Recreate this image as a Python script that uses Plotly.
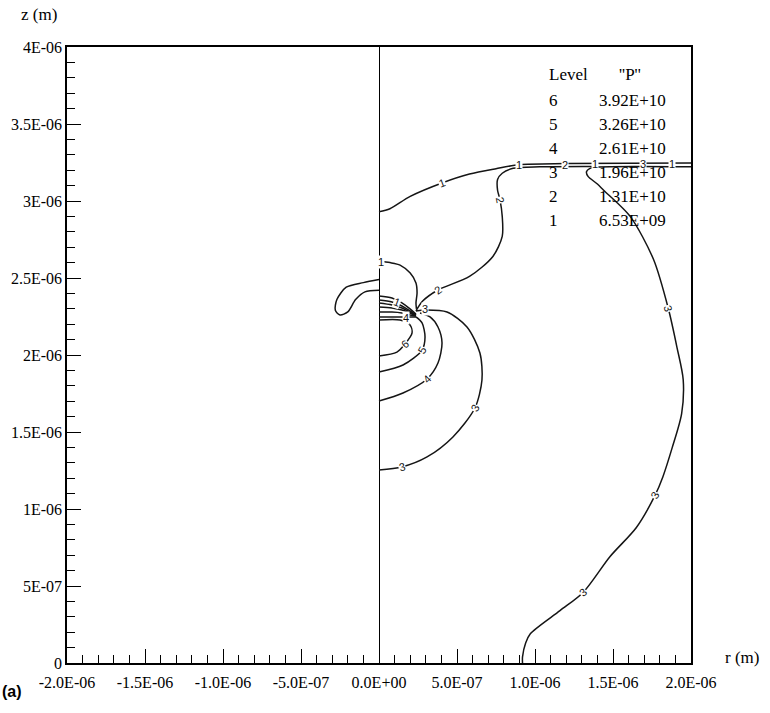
import numpy as np
import plotly.graph_objects as go

UM = 1e-6  # traced contour coordinates are stored in micrometres

# ---- pressure levels -------------------------------------------------------
levels = [6, 5, 4, 3, 2, 1]
level_pressure = [3.92e10, 3.26e10, 2.61e10, 1.96e10, 1.31e10, 6.53e9]

# ---- contour lines (r, z in µm) -------------------------------------------
c1_outer_r = [0.0, 0.07, 0.20, 0.404, 0.58, 0.75, 0.90, 1.20, 2.00]
c1_outer_z = [2.93, 2.95, 3.03, 3.117, 3.175, 3.21, 3.236, 3.243, 3.246]

c2_outer_r = [0.237, 0.28, 0.378, 0.58, 0.73, 0.79, 0.79, 0.776, 0.76, 0.76, 0.79, 0.86, 1.03, 1.40]
c2_outer_z = [2.286, 2.35, 2.422, 2.51, 2.64, 2.77, 2.90, 3.006, 3.07, 3.14, 3.18, 3.212, 3.222, 3.224]

c3_outer_r = [2.00, 1.40, 1.35, 1.33, 1.34, 1.40, 1.44, 1.61, 1.76, 1.855, 1.91, 1.95, 1.94,
              1.88, 1.82, 1.77, 1.65, 1.48, 1.31, 1.16, 0.97, 0.94, 0.92, 0.92]
c3_outer_z = [3.222, 3.220, 3.21, 3.19, 3.16, 3.11, 3.07, 2.90, 2.62, 2.30, 2.05, 1.84, 1.62,
              1.40, 1.21, 1.09, 0.88, 0.69, 0.46, 0.34, 0.19, 0.13, 0.04, 0.0]

c1_inner_r = [0.0, 0.07, 0.135, 0.20, 0.237, 0.244, 0.237, 0.24]
c1_inner_z = [2.61, 2.60, 2.584, 2.532, 2.468, 2.403, 2.338, 2.30]

lobe_r = [0.0, -0.10, -0.21, -0.27, -0.28, -0.25, -0.20, -0.15, -0.09, 0.0]
lobe_z = [2.49, 2.47, 2.44, 2.36, 2.29, 2.26, 2.28, 2.36, 2.41, 2.42]

fan1_r = [0.0, 0.083, 0.147, 0.199, 0.237]
fan1_z = [2.383, 2.370, 2.338, 2.299, 2.266]
fan2_r = [0.0, 0.083, 0.147, 0.199, 0.237]
fan2_z = [2.357, 2.344, 2.318, 2.286, 2.260]
fan3_r = [0.0, 0.083, 0.147, 0.199, 0.237]
fan3_z = [2.338, 2.325, 2.305, 2.279, 2.260]
fan4_r = [0.0, 0.083, 0.147, 0.199, 0.237]
fan4_z = [2.312, 2.305, 2.292, 2.273, 2.253]
fan5_r = [0.0, 0.083, 0.147, 0.199, 0.237]
fan5_z = [2.279, 2.279, 2.273, 2.260, 2.253]
fan6_r = [0.0, 0.103, 0.167, 0.237]
fan6_z = [2.247, 2.247, 2.247, 2.247]

c6_r = [0.0, 0.135, 0.199, 0.212, 0.167, 0.115, 0.0]
c6_z = [2.227, 2.227, 2.195, 2.143, 2.071, 2.019, 1.994]

c5_r = [0.0, 0.154, 0.276, 0.295, 0.276, 0.237]
c5_z = [1.890, 1.935, 2.032, 2.117, 2.208, 2.247]

c4_r = [0.0, 0.154, 0.308, 0.378, 0.404, 0.378, 0.327, 0.263]
c4_z = [1.701, 1.753, 1.844, 1.948, 2.078, 2.182, 2.247, 2.273]

c3_inner_r = [0.237, 0.295, 0.436, 0.564, 0.647, 0.660, 0.615, 0.474, 0.308, 0.147, 0.0]
c3_inner_z = [2.286, 2.292, 2.279, 2.182, 2.013, 1.838, 1.656, 1.468, 1.338, 1.273, 1.253]

# ---- in-line contour labels ------------------------------------------------
label_text = ["1", "1", "2", "1", "3", "1", "2", "2", "1", "1", "4", "3",
              "6", "5", "4", "3", "3", "3", "3", "3"]
label_r = [0.404, 0.897, 1.192, 1.385, 1.692, 1.878, 0.776, 0.378, 0.013, 0.115, 0.173, 0.295,
           0.167, 0.276, 0.308, 0.615, 0.147, 1.855, 1.77, 1.31]
label_z = [3.117, 3.236, 3.236, 3.240, 3.240, 3.240, 3.006, 2.422, 2.604, 2.344, 2.240, 2.299,
           2.071, 2.032, 1.844, 1.656, 1.273, 2.30, 1.09, 0.46]

# ---- axis ticks ------------------------------------------------------------
x_tick_vals = [-2.0e-6, -1.5e-6, -1.0e-6, -5.0e-7, 0.0, 5.0e-7, 1.0e-6, 1.5e-6, 2.0e-6]
x_tick_text = ["-2.0E-06", "-1.5E-06", "-1.0E-06", "-5.0E-07", "0.0E+00",
               "5.0E-07", "1.0E-06", "1.5E-06", "2.0E-06"]
y_tick_vals = [0.0, 5e-7, 1e-6, 1.5e-6, 2e-6, 2.5e-6, 3e-6, 3.5e-6, 4e-6]
y_tick_text = ["0", "5E-07", "1E-06", "1.5E-06", "2E-06", "2.5E-06", "3E-06", "3.5E-06", "4E-06"]

# ---------------------------------------------------------------------------
SERIF = "Liberation Serif"
SANS = "Liberation Sans"
LINE = dict(color="#151515", width=1.5)

lines = [
    (c1_outer_r, c1_outer_z), (c2_outer_r, c2_outer_z), (c3_outer_r, c3_outer_z),
    (c1_inner_r, c1_inner_z), (lobe_r, lobe_z),
    (fan1_r, fan1_z), (fan2_r, fan2_z), (fan3_r, fan3_z),
    (fan4_r, fan4_z), (fan5_r, fan5_z), (fan6_r, fan6_z),
    (c6_r, c6_z), (c5_r, c5_z), (c4_r, c4_z), (c3_inner_r, c3_inner_z),
]

fig = go.Figure()
for r, z in lines:
    fig.add_trace(go.Scatter(
        x=np.array(r) * UM, y=np.array(z) * UM, mode="lines",
        line=dict(LINE, shape="spline", smoothing=0.8),
        hoverinfo="skip", showlegend=False,
    ))

# rotation of each in-line label, following the local direction of its line
label_angle = [-20, 0, 0, 0, 0, 0, 80, -35, 0, 20, 0, 0,
               -40, -60, -45, -60, -15, 75, -62, -40]

annotations = []
for t, r, z, a in zip(label_text, label_r, label_z, label_angle):
    annotations.append(dict(
        x=r * UM, y=z * UM, xref="x", yref="y", text=t, showarrow=False,
        textangle=a, bgcolor="white", borderpad=0,
        font=dict(family=SANS, size=11, color="#111"),
    ))

# level table in the upper right
px_w, px_h = 624.0, 616.0
def paper_x(px):
    return (px - 67.0) / px_w
def paper_y(py):
    return (663.0 - py) / px_h

table_font = dict(family=SERIF, size=17, color="black")
annotations.append(dict(x=paper_x(547), y=paper_y(75), xref="paper", yref="paper",
                        text="Level", showarrow=False, xanchor="left", yanchor="middle",
                        font=table_font))
annotations.append(dict(x=paper_x(617), y=paper_y(75), xref="paper", yref="paper",
                        text="''P''", showarrow=False, xanchor="left", yanchor="middle",
                        font=table_font))
for i, (lv, p) in enumerate(zip(levels, level_pressure)):
    row_y = paper_y(100 + 24 * i)
    annotations.append(dict(x=paper_x(547), y=row_y, xref="paper", yref="paper",
                            text=str(lv), showarrow=False, xanchor="left",
                            yanchor="middle", font=table_font))
    annotations.append(dict(x=paper_x(597), y=row_y, xref="paper", yref="paper",
                            text=f"{p:.2E}", showarrow=False, xanchor="left",
                            yanchor="middle", font=table_font))

# axis titles and panel tag
annotations.append(dict(x=paper_x(39), y=paper_y(15), xref="paper", yref="paper",
                        text="z (m)", showarrow=False, xanchor="center", yanchor="middle",
                        font=dict(family=SERIF, size=17, color="black")))
annotations.append(dict(x=paper_x(723), y=paper_y(657), xref="paper", yref="paper",
                        text="r (m)", showarrow=False, xanchor="left", yanchor="middle",
                        font=dict(family=SERIF, size=17, color="black")))
annotations.append(dict(x=paper_x(0), y=paper_y(691), xref="paper", yref="paper",
                        text="<b>(a)</b>", showarrow=False, xanchor="left", yanchor="middle",
                        font=dict(family=SANS, size=16, color="black")))

x_minor = [v * 1e-7 for v in range(-20, 21) if v % 5 != 0]
y_minor = [v * 1e-7 for v in range(0, 41) if v % 5 != 0]

axis_common = dict(
    showgrid=False, showline=True, linecolor="black", linewidth=1.6, mirror=True,
    ticks="inside", ticklen=14, tickwidth=1.2, tickcolor="black",
    tickfont=dict(family=SERIF, size=16, color="black"),
    tickmode="array", automargin=False,
)

fig.update_layout(
    width=770, height=713,
    margin=dict(l=67, r=79, t=47, b=50),
    paper_bgcolor="white", plot_bgcolor="white",
    showlegend=False,
    xaxis=dict(axis_common, range=[-2e-6, 2e-6], tickvals=x_tick_vals, ticktext=x_tick_text,
               zeroline=True, zerolinecolor="black", zerolinewidth=1.2,
               ticklabelstandoff=4,
               minor=dict(ticks="inside", ticklen=8, tickwidth=1, tickcolor="black",
                          tickmode="array", tickvals=x_minor, showgrid=False)),
    yaxis=dict(axis_common, range=[0, 4e-6], tickvals=y_tick_vals, ticktext=y_tick_text,
               zeroline=False,
               minor=dict(ticks="inside", ticklen=8, tickwidth=1, tickcolor="black",
                          tickmode="array", tickvals=y_minor, showgrid=False)),
    annotations=annotations,
)

fig.write_html("out.html")
